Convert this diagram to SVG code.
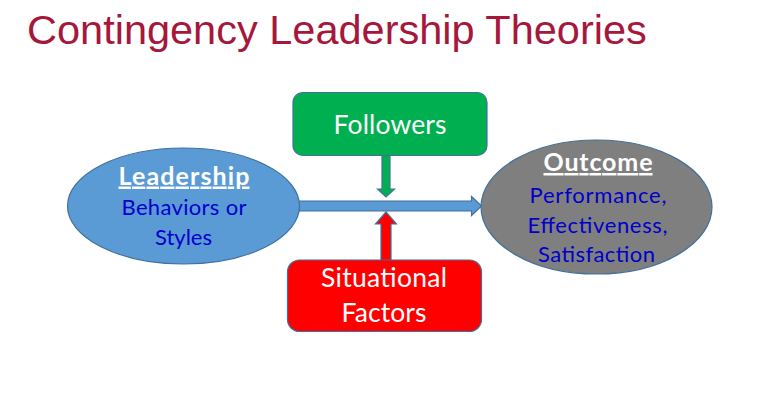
<svg xmlns="http://www.w3.org/2000/svg" width="772" height="405" viewBox="0 0 772 405">
<style>
.title{font-family:"Liberation Sans",Arial,sans-serif;font-size:41.5px;fill:#A6173C}
.t{font-family:Lato,"Noto Sans",sans-serif;text-anchor:middle}
.head{font-weight:bold;fill:#FFFFFF;text-decoration:underline;font-size:25px}
.blue{fill:#0000CC;font-size:22px}
.wh{fill:#FFFFFF;font-size:26.5px}
.shape{stroke:#41719C;stroke-width:1.2}
</style>
<rect width="772" height="405" fill="#FFFFFF"/>
<text class="title" x="27" y="43.5">Contingency Leadership Theories</text>
<g id="connectors">
<polygon class="shape" fill="#5B9BD5" points="296,201 471.5,201 471.5,196.5 481.5,206 471.5,215.5 471.5,211 296,211"/>
<polygon class="shape" fill="#00B050" points="382,155 390,155 390,189 394.5,189 386,197 377.5,189 382,189"/>
<polygon class="shape" fill="#FF0000" points="381,261 381,224 375.5,224 386,212 396.5,224 391,224 391,261"/>
</g>
<g id="leadership">
<ellipse class="shape" fill="#5B9BD5" cx="183.5" cy="206" rx="116" ry="58"/>
<text class="t head" x="184" y="184.5" textLength="131">Leadership</text>
<text class="t blue" x="184" y="215" textLength="125">Behaviors or</text>
<text class="t blue" x="183.5" y="244.5" textLength="57">Styles</text>
</g>
<g id="followers">
<rect class="shape" fill="#00B050" x="293" y="92.5" width="194" height="63" rx="10"/>
<text class="t wh" x="390" y="133.5" textLength="113">Followers</text>
</g>
<g id="situational">
<rect class="shape" fill="#FF0000" x="287.5" y="260" width="194" height="71.5" rx="12"/>
<text class="t wh" x="384" y="286.5" textLength="126">Situational</text>
<text class="t wh" x="384" y="321.5" textLength="85">Factors</text>
</g>
<g id="outcome">
<ellipse class="shape" fill="#7F7F7F" cx="596.5" cy="207" rx="115.5" ry="67"/>
<text class="t head" x="598" y="171" textLength="109">Outcome</text>
<text class="t blue" x="598" y="203" textLength="137">Performance,</text>
<text class="t blue" x="597.5" y="232.5" textLength="140">Effectiveness,</text>
<text class="t blue" x="596.5" y="262" textLength="117">Satisfaction</text>
</g>
</svg>
